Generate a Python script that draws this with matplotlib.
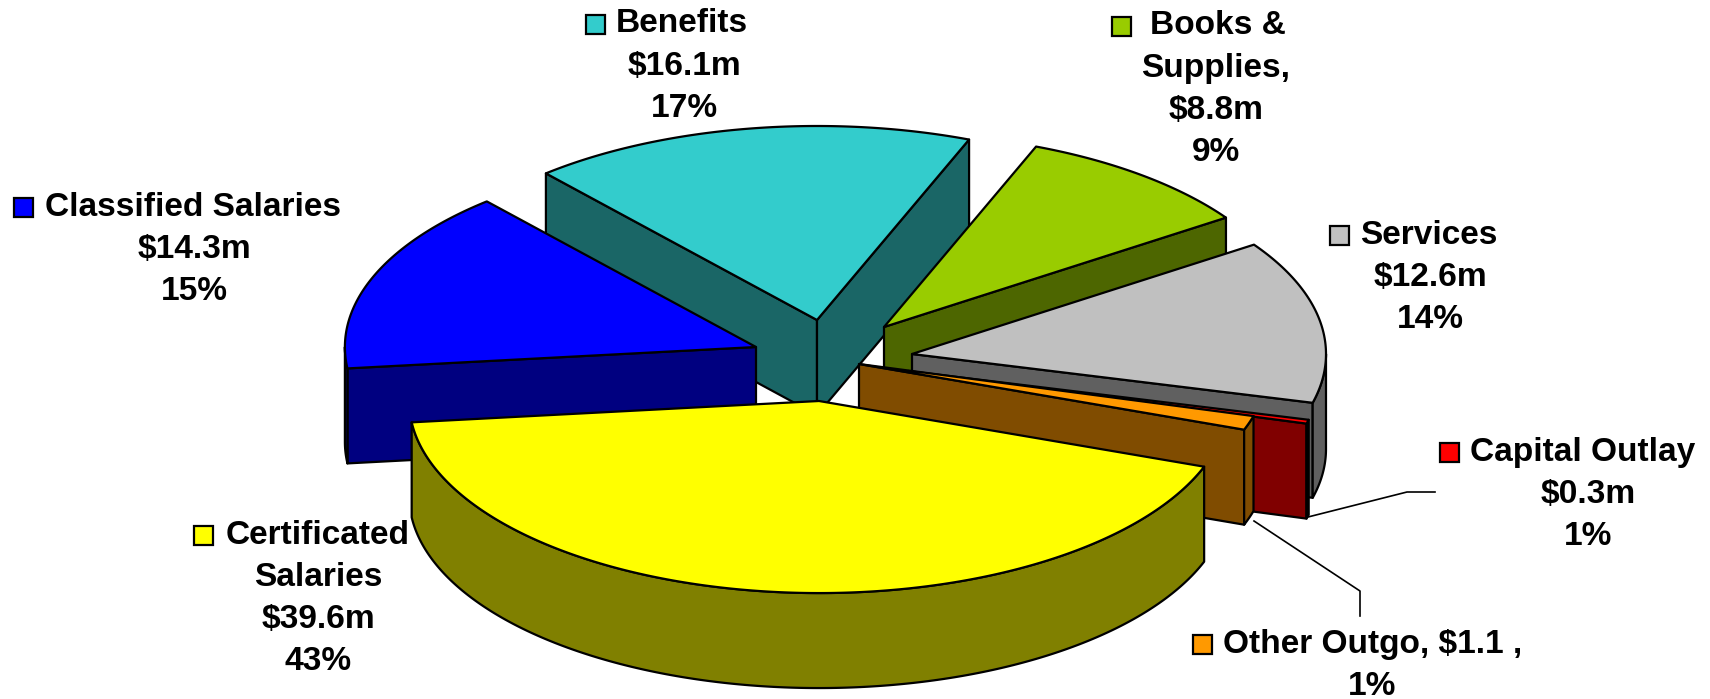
import numpy as np
import matplotlib
matplotlib.use("Agg")
import matplotlib.pyplot as plt
from matplotlib.patches import Polygon, Rectangle

plt.rcParams['font.family'] = ['Liberation Sans', 'DejaVu Sans']

categories = ["Certificated Salaries", "Classified Salaries", "Benefits",
              "Books & Supplies", "Services", "Capital Outlay", "Other Outgo"]
values = [39.6, 14.3, 16.1, 8.8, 12.6, 0.3, 1.1]
percents = [43, 15, 17, 9, 14, 1, 1]

top_colors = ["#FFFF00", "#0000FF", "#33CCCC", "#99CC00", "#C0C0C0", "#FF0000", "#FF9900"]
side_colors = ["#808000", "#000080", "#1A6666", "#4D6600", "#606060", "#800000", "#804C00"]

# layout (pixels)
centers = [(819, 401), (756, 347), (817, 320), (884, 327), (912, 354), (908, 371), (859, 364)]
radius_scale = [0.99, 0.993, 1, 1, 1, 1, 0.99]
RX, RY, DEPTH = 414, 194, 95
START = 110
draw_order = [2, 3, 1, 4, 5, 6, 0]
LW = 1.6

fig = plt.figure(figsize=(17.1, 6.99), dpi=100)
ax = fig.add_axes([0, 0, 1, 1])
ax.set_xlim(0, 1710)
ax.set_ylim(699, 0)
ax.axis("off")

total = sum(values)
edges = START + np.concatenate([[0], np.cumsum(values)]) / total * 360


def rim(c, r, t0, t1, dz=0):
    th = np.radians(np.linspace(t0, t1, max(int(abs(t1 - t0) * 2), 2)))
    return np.column_stack([c[0] + r * RX * np.sin(th), c[1] - r * RY * np.cos(th) + dz])


def poly(pts, color, z):
    ax.add_patch(Polygon(pts, closed=True, facecolor=color, edgecolor="black",
                         linewidth=LW, joinstyle="round", zorder=z))


z = 1
for i in draw_order:
    c, r = centers[i], radius_scale[i]
    t0, t1 = edges[i], edges[i + 1]
    if t0 >= 360:
        t0, t1 = t0 - 360, t1 - 360
    apex = np.array(c, float)
    for t, visible in ((t0, np.sin(np.radians(t0)) < 0), (t1, np.sin(np.radians(t1)) > 0)):
        if visible:
            p = rim(c, r, t, t)[0]
            poly([apex, p, p + [0, DEPTH], apex + [0, DEPTH]], side_colors[i], z)
            z += 1
    # outer wall: the part of the rim that faces the viewer (90..270 deg)
    a, b = max(t0, 90), min(t1, 270)
    if b > a:
        poly(np.vstack([rim(c, r, a, b), rim(c, r, a, b, DEPTH)[::-1]]), side_colors[i], z)
        z += 1
    poly(np.vstack([[apex], rim(c, r, t0, t1)]), top_colors[i], z)
    z += 1

# leader lines
ax.plot([1308, 1407, 1435], [517, 492, 492], color="black", lw=1.2, zorder=z)
ax.plot([1254, 1360, 1360], [521, 591, 616], color="black", lw=1.2, zorder=z)

# labels: (slice, first-line text, its left x, marker x, y of first line, centre x of the rest, rest)
FS = 24.1
LINE = 42.3
money = [f"${v}m" for v in values]
pct = [f"{p}%" for p in percents]
labels = [
    (0, "Certificated", 226, 203, 535, 318, ["Salaries", money[0], pct[0]]),
    (1, "Classified Salaries", 45, 23, 207, 194, [money[1], pct[1]]),
    (2, "Benefits", 616, 595, 24, 684, [money[2], pct[2]]),
    (3, "Books &", 1150, 1121, 26, 1216, ["Supplies,", money[3], pct[3]]),
    (4, "Services", 1360, 1339, 235, 1430, [money[4], pct[4]]),
    (5, "Capital Outlay", 1470, 1449, 452, 1588, [money[5], pct[5]]),
    (6, "Other Outgo, $1.1 ,", 1223, 1202, 644, 1372, [pct[6]]),
]
for i, first, tx, mx, y, cx, rest in labels:
    ax.add_patch(Rectangle((mx - 9.5, y - 9.5), 19, 19, facecolor=top_colors[i],
                           edgecolor="black", linewidth=LW, zorder=z))
    ax.text(tx, y, first, fontsize=FS, fontweight="bold", ha="left", va="center", zorder=z)
    for k, s in enumerate(rest, start=1):
        ax.text(cx, y + k * LINE, s, fontsize=FS, fontweight="bold", ha="center", va="center", zorder=z)

fig.savefig("out.png", dpi=100)
